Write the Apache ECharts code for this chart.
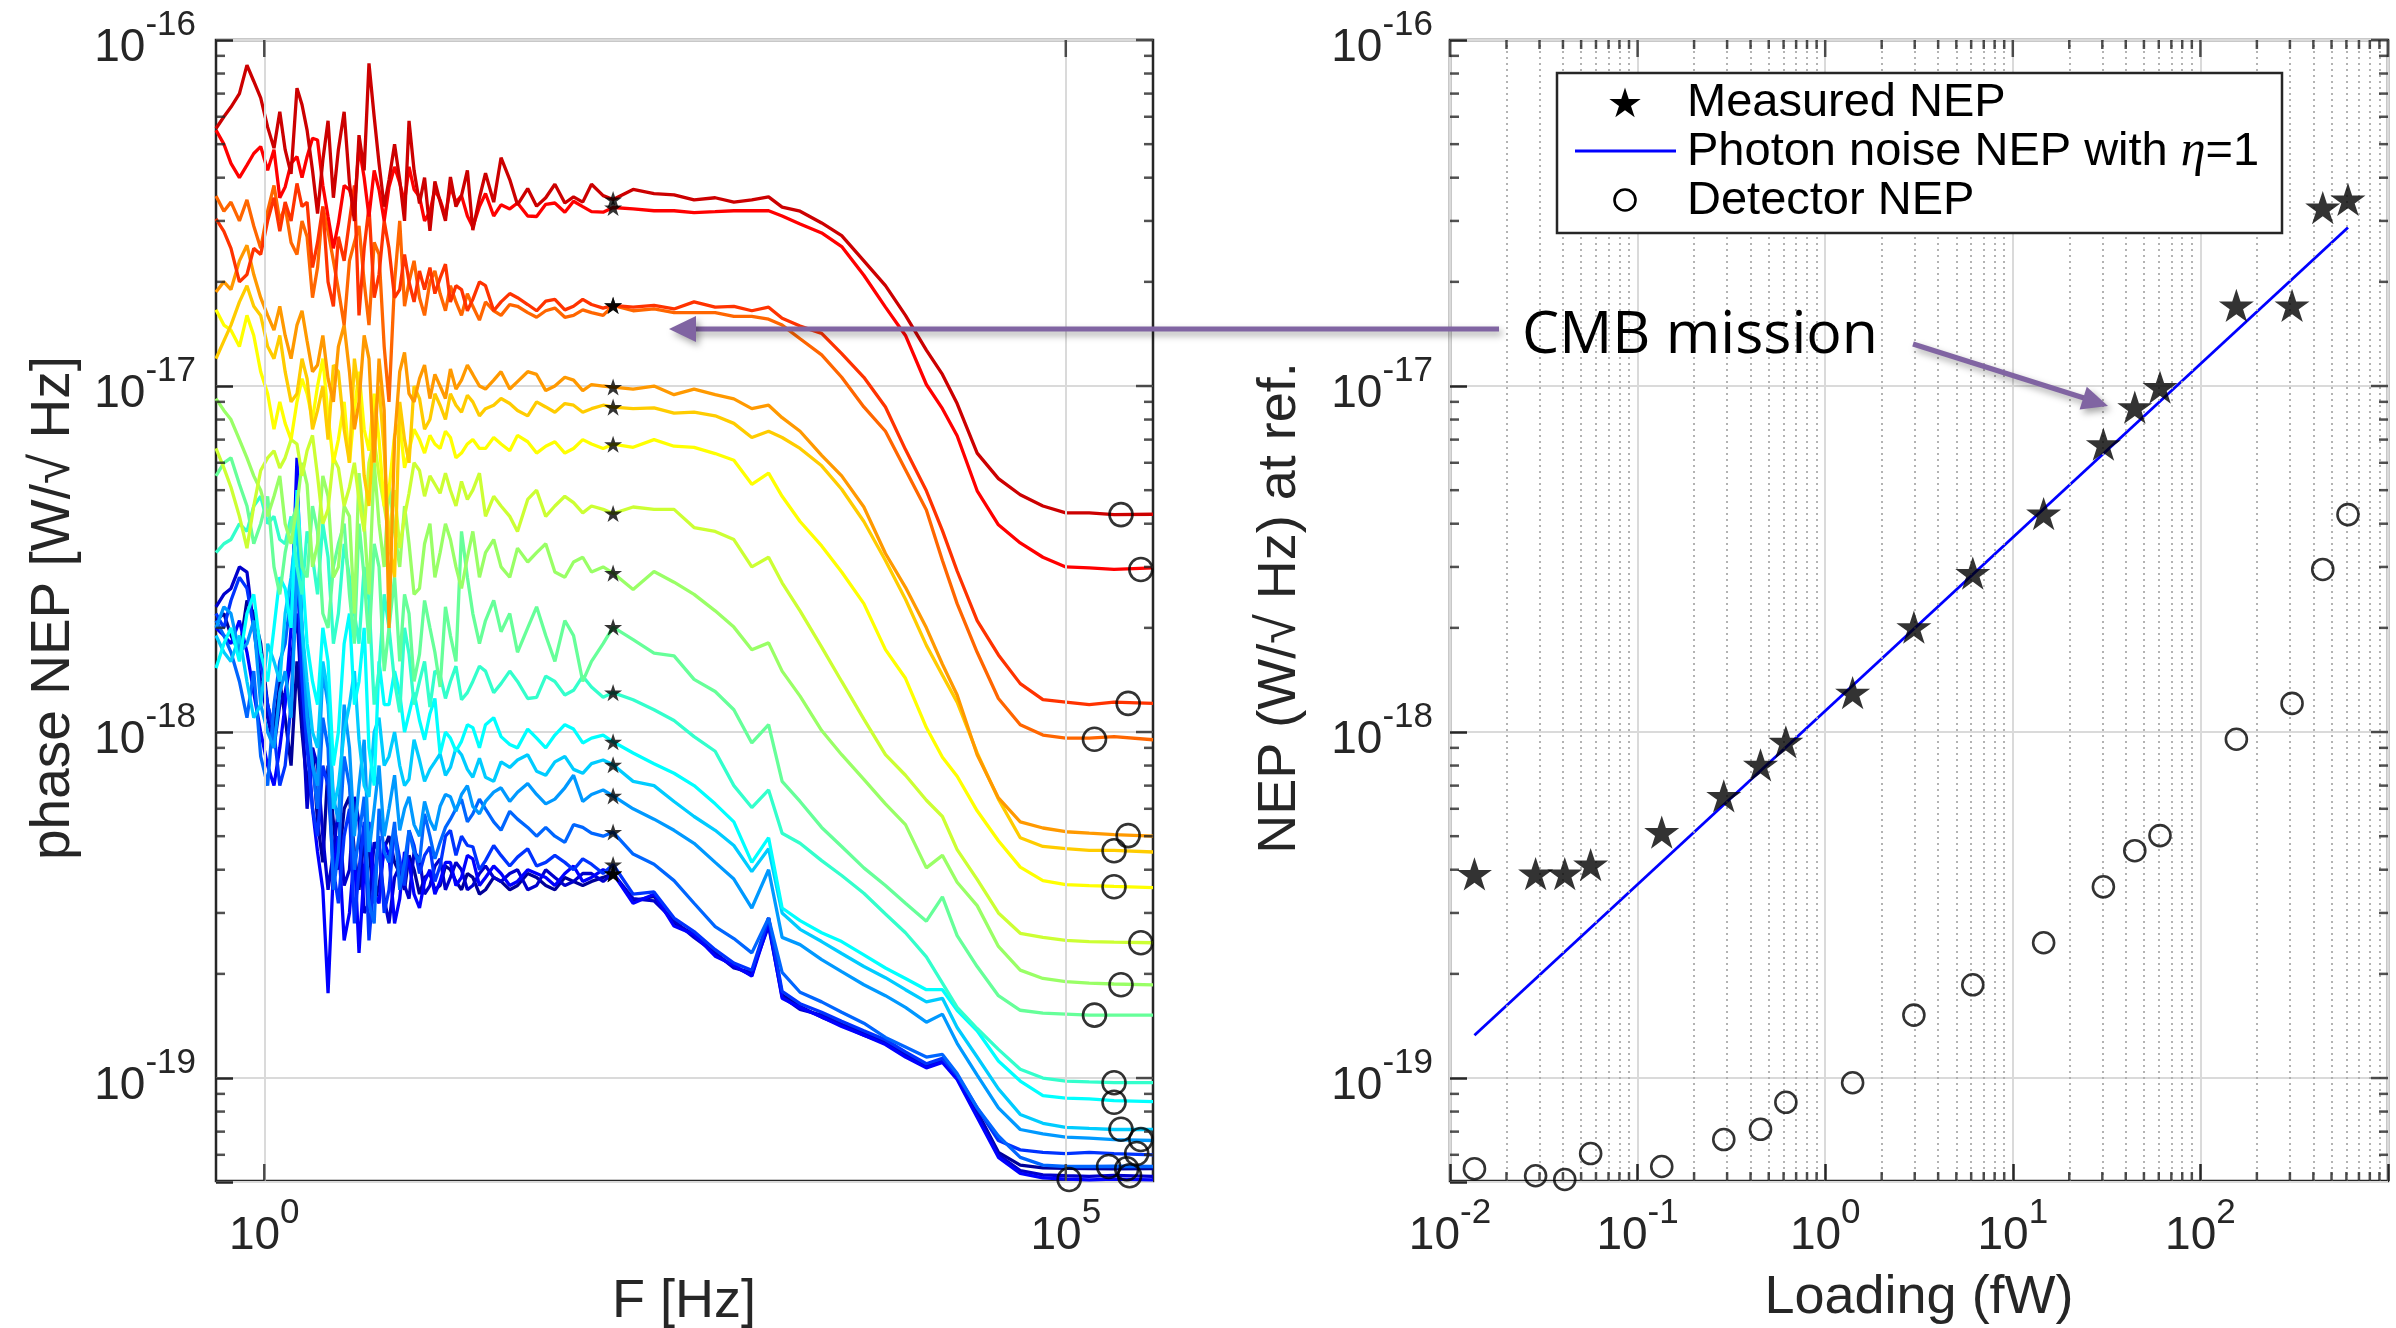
<!DOCTYPE html>
<html>
<head>
<meta charset="utf-8">
<title>Phase NEP spectra and NEP versus optical loading</title>
<script src="https://cdn.jsdelivr.net/npm/echarts@6/dist/echarts.min.js"></script>
<style>
html,body{margin:0;padding:0;background:#ffffff;}
#chart{width:2396px;height:1328px;}
</style>
</head>
<body>
<div id="chart"></div>
<script>
// ======================= DATA =======================
// Left panel: phase NEP spectra (one curve per optical loading).
// Curve values are in units of 1e-19 W/sqrt(Hz).
const nepUnit = 1e-19;
const freqHz = [0.5, 0.62, 0.78, 0.95, 1.15, 1.35, 1.6, 1.85, 2.15, 2.5, 2.9, 3.4, 3.9, 4.5, 5.2, 6, 7, 8, 9.3, 10.8,
  12.5, 14.5, 17, 20, 24, 30, 38, 50, 65, 85, 110, 150, 200, 270, 360, 480, 650, 850, 1100, 1400,
  1700, 2200, 3000, 4000, 5500, 7500, 10000, 13500, 17000, 21000, 28000, 38000, 52000, 72000, 100000, 140000, 200000, 350000];
// extra samples read in the noisy low-frequency part (between the points above)
const freqFineHz = [0.56, 0.7, 0.86, 1.05, 1.25, 1.47, 1.72, 2.0, 2.32, 2.7, 3.15, 3.65, 4.2, 4.85, 5.6, 6.5, 7.5, 8.6, 10, 11.6,
  13.5, 15.7, 18.5, 22, 27, 34, 44, 57, 75, 97, 130];

const spectrum01 = [21, 19, 24, 18, 10, 11, 16, 7, 5.5, 8, 4, 6.5, 3.5, 4.6, 3.6, 5.0, 3.9, 4.4, 3.4, 3.9, 3.6, 4.0, 3.5, 3.8, 3.5, 3.7, 3.6, 3.8, 3.5, 3.7, 3.7,
  3.9, 3.25, 3.35, 2.8, 2.6, 2.28, 2.1, 1.98, 2.9, 1.74, 1.61, 1.5, 1.42, 1.33, 1.26, 1.16, 1.08, 1.12, 1.01, 0.8, 0.61, 0.56, 0.55, 0.548, 0.547, 0.546, 0.547];
const spectrum02 = [23, 26, 29, 14, 9, 13, 22, 6, 8, 3.5, 6, 4, 5.5, 3.2, 4.5, 2.8, 4.1, 3.3, 4.3, 3.6, 4.3, 3.8, 4.0, 3.6, 4.1, 3.7, 4.0, 3.6, 3.8, 3.7, 3.9,
  3.9, 3.3, 3.25, 2.85, 2.55, 2.3, 2.08, 2.02, 2.75, 1.72, 1.58, 1.52, 1.43, 1.35, 1.27, 1.17, 1.09, 1.13, 1.0, 0.79, 0.6, 0.54, 0.525, 0.522, 0.52, 0.523, 0.52];
const spectrum03 = [20, 18, 17, 10, 7, 12, 62, 10, 4.5, 1.76, 5, 3, 2.3, 5.5, 3.2, 4.4, 3.3, 4.2, 3.1, 4.0, 3.7, 4.2, 3.8, 4.3, 3.8, 3.9, 3.7, 3.9, 3.6, 4.1, 3.8,
  3.9, 3.2, 3.4, 2.75, 2.6, 2.25, 2.12, 1.97, 2.8, 1.7, 1.6, 1.5, 1.41, 1.33, 1.25, 1.15, 1.07, 1.11, 0.99, 0.77, 0.59, 0.53, 0.515, 0.51, 0.508, 0.51, 0.508];
const spectrum04 = [22, 24, 26, 16, 10, 8, 30, 9, 5, 7, 3.2, 6, 4, 2.5, 5, 3.5, 4.3, 5.2, 3.9, 4.66, 4.1, 5.2, 5.0, 4.66, 4.25, 4.4, 4.35, 4.1, 4.4, 4.0, 4.15,
  4.14, 3.4, 3.45, 2.9, 2.65, 2.35, 2.15, 2.05, 2.9, 1.78, 1.64, 1.55, 1.46, 1.37, 1.29, 1.19, 1.1, 1.14, 1.02, 0.82, 0.66, 0.62, 0.61, 0.605, 0.61, 0.605, 0.6];
const spectrum05 = [21, 17, 11, 8.5, 12, 18, 45, 12, 6, 9, 4.5, 7, 5, 3.2, 6, 4.2, 3.5, 5.2, 4.2, 5.0, 4.8, 5.6, 6.4, 5.8, 6.0, 5.2, 5.6, 5.0, 5.0, 5.4, 5.1,
  5.14, 4.44, 4.15, 3.72, 3.2, 2.74, 2.53, 2.3, 2.9, 2.02, 1.77, 1.66, 1.55, 1.44, 1.31, 1.23, 1.15, 1.17, 1.03, 0.82, 0.68, 0.59, 0.56, 0.555, 0.555, 0.556, 0.555];
const spectrum06 = [20, 22, 18, 12, 9, 15, 30, 11, 7, 12, 5.5, 9, 7, 4.5, 8, 6, 5.2, 6.5, 5.0, 5.55, 6.1, 6.5, 6.6, 6.1, 6.3, 6.9, 6.7, 6.6, 6.4, 7.5, 6.6,
  6.54, 6.0, 5.6, 5.2, 4.77, 4.2, 3.76, 3.1, 4.0, 2.55, 2.43, 2.2, 2.03, 1.86, 1.73, 1.6, 1.45, 1.53, 1.26, 1.02, 0.82, 0.71, 0.69, 0.675, 0.67, 0.664, 0.66];
const spectrum07 = [19, 16, 14, 12, 16, 22, 40, 14, 9, 13, 7, 12, 9.5, 6.5, 11, 8.5, 8.0, 7.3, 8.3, 7.8, 8.65, 7.9, 8.6, 7.4, 7.4, 8.2, 8.3, 7.7, 8.2, 7.8, 8.1,
  8.04, 7.2, 7.0, 6.3, 5.7, 5.2, 4.7, 3.95, 4.6, 3.0, 2.69, 2.48, 2.29, 2.1, 1.95, 1.8, 1.66, 1.70, 1.4, 1.15, 0.93, 0.785, 0.74, 0.72, 0.715, 0.71, 0.71];
const spectrum08 = [15.3, 20, 22, 17, 20, 26, 50, 18, 12, 16, 10, 22, 14, 9, 16, 12, 12.9, 11.3, 10.8, 11.3, 8.65, 9.6, 9.4, 10.3, 10.5, 9.7, 9.0, 9.6, 9.8, 10.2, 9.6,
  9.37, 8.7, 8.1, 7.6, 7.0, 6.2, 5.5, 4.2, 4.95, 3.1, 2.85, 2.63, 2.48, 2.27, 2.08, 1.94, 1.8, 1.8, 1.57, 1.37, 1.12, 0.98, 0.89, 0.875, 0.87, 0.86, 0.855];
const spectrum09 = [33, 36, 38, 48, 42, 35, 30, 38, 25, 32, 22, 28, 18, 24, 15, 20, 11.4, 16.8, 14, 11.8, 14.6, 14, 12.4, 14, 15, 13.8, 14, 12.6, 14, 13.2, 13.5,
  13.0, 12.4, 11.6, 10.8, 9.7, 8.8, 7.0, 6.05, 6.8, 5.1, 4.77, 4.25, 3.85, 3.42, 2.98, 2.63, 2.24, 1.88, 1.6, 1.39, 1.21, 1.06, 1.0, 0.98, 0.975, 0.97, 0.97];
const spectrum10 = [55, 62, 45, 40, 30, 33, 45, 28, 38, 20, 35, 25, 40, 18, 30, 20, 16, 22, 16.8, 20, 13.5, 19, 38, 22, 21, 19.5, 17, 23, 16, 19, 16,
  20.1, 18.5, 16.9, 16.6, 14.2, 13.1, 11.6, 9.3, 10.5, 7.2, 6.3, 5.3, 4.67, 4.05, 3.6, 3.2, 2.84, 3.34, 2.58, 2.1, 1.73, 1.57, 1.54, 1.53, 1.52, 1.52, 1.52];
const spectrum11 = [92, 80, 62, 50, 48, 40, 45, 52, 35, 48, 30, 42, 56, 25, 40, 52, 30, 35, 26, 40, 33, 36, 26, 38, 33, 30, 34, 33, 29, 31, 29,
  28.8, 25.8, 29.1, 27.1, 25, 22.4, 20.1, 17.3, 18.1, 15, 12.7, 10.1, 8.6, 7.3, 6.2, 5.4, 4.05, 4.4, 3.68, 3.15, 2.4, 2.05, 1.94, 1.9, 1.88, 1.87, 1.86];
const spectrum12 = [66, 51, 34, 57, 65, 62, 68, 65, 55, 44, 58, 51, 47, 60, 55, 37, 34, 49, 57, 55, 49, 50, 53, 50, 42, 45, 38, 50, 45, 46, 45,
  42.8, 44.7, 44, 44, 39, 38, 36, 30, 32, 27, 22.4, 17.6, 14.0, 10.9, 8.6, 7.5, 6.35, 5.7, 4.57, 3.75, 3.0, 2.62, 2.55, 2.5, 2.48, 2.47, 2.46];
const spectrum13 = [166, 145, 160, 110, 75, 78, 90, 95, 100, 82, 70, 60, 110, 65, 70, 50, 78, 65, 70, 72, 66, 71, 64, 70, 66, 68, 72, 64, 69, 66, 68,
  67.9, 66.5, 70, 67, 66.5, 63.8, 61, 52, 56, 48, 40.6, 34.5, 29, 23.5, 17.3, 14.3, 10.3, 8.45, 7.45, 5.92, 4.85, 4.07, 3.72, 3.62, 3.6, 3.58, 3.55];
const spectrum14 = [120, 150, 195, 160, 120, 110, 95, 105, 85, 70, 110, 60, 95, 45, 100, 35, 90, 60, 92, 80, 88, 95, 84, 90, 86, 92, 85, 90, 84, 88, 86,
  86.9, 86, 86.5, 83.5, 84, 82, 78, 71, 74, 71, 66, 58.8, 50.3, 40.6, 31.3, 24.2, 17.8, 14.6, 12.2, 8.7, 6.4, 4.95, 4.67, 4.6, 4.55, 4.55, 4.5];
const spectrum15 = [187, 190, 255, 180, 145, 140, 150, 135, 115, 105, 130, 110, 90, 120, 120, 20, 110, 95, 105, 92, 100, 112, 104, 108, 98, 110, 103, 108, 100, 104, 101,
  99.3, 98, 100, 94.4, 98, 94.4, 91.8, 86, 88, 81, 74, 63, 55, 44.7, 32.8, 26.2, 20, 15.7, 12.8, 8.6, 6.45, 5.5, 5.28, 5.15, 5.1, 5.05, 5.0];
const spectrum16 = [354, 340, 345, 250, 380, 330, 240, 270, 220, 280, 190, 230, 290, 150, 240, 90, 300, 200, 180, 200, 185, 195, 160, 170, 175, 160, 170, 158, 168, 160, 163,
  171, 165, 167, 163, 163, 163, 159, 159, 156, 150, 137, 123, 106, 87, 74, 57.3, 43.8, 31.3, 23.5, 17, 12.5, 10.5, 9.8, 9.6, 9.6, 9.7, 9.5];
const spectrum17 = [304, 250, 210, 240, 350, 340, 385, 340, 260, 200, 270, 300, 160, 330, 210, 250, 190, 200, 215, 220, 205, 175, 190, 178, 195, 175, 180, 165, 178, 170, 172,
  171, 169, 171, 167, 175, 169, 170, 165, 169, 157, 149, 142, 124, 106, 87, 65.5, 49.8, 38.2, 29.2, 21, 16.7, 13.8, 12.4, 12.2, 12.0, 12.2, 12.1];
const spectrum18 = [549, 440, 435, 492, 482, 376, 460, 460, 514, 309, 295, 369, 492, 309, 369, 376, 386, 430, 352, 319, 345, 376, 355, 288, 360, 334, 338, 309, 338, 342, 319,
  328, 325, 321, 321, 317, 319, 321, 321, 321, 310, 294, 277, 253, 209, 169, 140, 101, 86, 71.8, 49.8, 39.7, 35.2, 32, 30, 29.8, 29.5, 29.8];
const spectrum19 = [555, 640, 846, 680, 487, 482, 726, 549, 315, 584, 482, 386, 531, 856, 440, 394, 394, 584, 337, 281, 341, 402, 355, 282, 412, 457, 334, 331, 383, 352, 383,
  346, 370, 360, 357, 345, 350, 340, 345, 352, 329, 320, 296, 272, 230, 195, 160, 127, 108, 89, 64, 54, 48.5, 45, 43, 43, 42.5, 42.6];

// values at freqFineHz (same units)
const fine01 = [22, 17, 22, 12, 14, 8, 10, 9, 4.2, 5.5, 6, 4.5, 5, 3.2, 4.6, 4.2, 3.5, 4.0, 3.8, 3.5, 4.1, 3.7, 3.9, 3.4, 3.8, 3.5, 3.9, 3.6, 3.8, 3.6, 3.8];
const fine02 = [25, 30, 20, 11, 12, 16, 12, 9, 5, 4.5, 3.6, 6.5, 3, 4.8, 3.3, 3.8, 3.6, 4.5, 3.4, 4.1, 3.5, 4.2, 3.5, 3.9, 3.8, 3.9, 3.5, 4.0, 3.6, 3.9, 3.7];
const fine03 = [19, 21, 13, 8, 9, 20, 18, 6, 3.5, 4, 2.5, 4.5, 4, 3.4, 4.8, 2.8, 4.5, 3.4, 3.7, 3.4, 4.2, 3.6, 4.4, 3.6, 4.1, 3.6, 4.0, 3.8, 3.9, 3.7, 4.0];
const fine04 = [20, 28, 20, 12, 7, 12, 14, 6, 8, 4, 5, 2.8, 5.5, 3.8, 3, 5.2, 3.6, 4.7, 4.4, 3.7, 5.0, 4.4, 4.7, 4.0, 4.7, 4.1, 4.6, 4.2, 4.2, 4.3, 3.9];
const fine05 = [19, 14, 15, 7, 16, 25, 20, 8, 11, 3.5, 8.5, 4, 6.5, 2.8, 4.5, 5.5, 4.2, 4.5, 5.8, 4.3, 5.3, 6.0, 5.5, 6.4, 5.5, 5.9, 5.3, 5.3, 4.8, 5.3, 5.0];
const fine06 = [23, 17, 21, 10, 13, 11, 20, 8, 15, 6.5, 12, 5, 9.5, 6, 5, 7.5, 6, 5.4, 6.3, 5.2, 6.6, 5.9, 7, 5.8, 6.7, 6.3, 7.1, 6.2, 6.9, 6.3, 6.8];
const fine07 = [17, 19, 11, 18, 14, 28, 20, 10, 16, 6, 10, 15, 7, 10, 8, 10, 7, 9.5, 7.2, 8.2, 7.5, 9, 7.8, 8.4, 7.2, 7.9, 8.6, 7.5, 8.5, 7.6, 8.3];
const fine08 = [18, 16, 25, 14, 28, 20, 30, 14, 20, 8, 18, 12, 20, 7, 12, 15, 10, 13, 9.5, 12.5, 10, 8.8, 10.5, 9, 11, 9.2, 10.2, 9, 10.5, 9.3, 9.8];
const fine09 = [35, 40, 45, 40, 36, 42, 25, 32, 40, 18, 35, 22, 30, 12, 25, 14, 20, 12, 16, 15, 12.5, 15.5, 13, 15.5, 13, 15, 12.5, 14.5, 12.8, 14.5, 12.6];
const fine10 = [60, 52, 35, 48, 25, 40, 30, 45, 22, 30, 40, 18, 28, 35, 15, 28, 25, 14, 24, 17, 23, 16, 28, 18, 24, 22, 20, 19, 21, 14, 18];
const fine11 = [85, 70, 55, 42, 55, 35, 60, 30, 55, 28, 45, 22, 40, 60, 30, 38, 45, 25, 35, 28, 40, 30, 32, 28, 36, 28, 31, 35, 28, 32, 30];
const fine12 = [58, 42, 45, 62, 58, 70, 55, 72, 40, 62, 45, 60, 38, 70, 45, 50, 42, 60, 48, 52, 56, 45, 47, 56, 48, 42, 47, 42, 48, 43, 44];
const fine13 = [150, 130, 140, 95, 90, 70, 105, 80, 120, 60, 90, 85, 75, 95, 45, 72, 58, 75, 64, 68, 74, 62, 68, 66, 71, 65, 69, 67, 64, 70, 66];
const fine14 = [135, 175, 170, 130, 140, 90, 120, 75, 100, 115, 75, 120, 55, 80, 65, 28, 70, 100, 75, 95, 80, 88, 94, 82, 88, 89, 82, 87, 89, 84, 88];
const fine15 = [200, 230, 210, 160, 170, 120, 165, 110, 140, 90, 150, 75, 140, 60, 85, 70, 125, 90, 115, 108, 92, 98, 115, 100, 104, 98, 110, 97, 106, 97, 100];
const fine16 = [320, 300, 290, 320, 300, 260, 300, 180, 330, 230, 150, 260, 200, 260, 130, 200, 170, 230, 160, 215, 165, 175, 185, 155, 165, 172, 163, 165, 158, 166, 160];
const fine17 = [280, 200, 250, 300, 280, 300, 330, 220, 330, 170, 230, 380, 250, 180, 300, 180, 240, 175, 190, 185, 225, 195, 165, 200, 165, 185, 172, 176, 166, 178, 168];
const fine18 = [500, 400, 470, 420, 350, 440, 400, 520, 380, 250, 380, 330, 400, 420, 300, 430, 340, 370, 300, 370, 310, 340, 310, 330, 310, 325, 310, 335, 318, 330, 318];
const fine19 = [600, 700, 760, 560, 620, 410, 650, 420, 450, 350, 620, 300, 420, 600, 330, 500, 300, 420, 400, 390, 300, 330, 420, 350, 340, 395, 372, 350, 338, 340, 355];

const spectra = [spectrum01, spectrum02, spectrum03, spectrum04, spectrum05, spectrum06, spectrum07, spectrum08, spectrum09, spectrum10,
  spectrum11, spectrum12, spectrum13, spectrum14, spectrum15, spectrum16, spectrum17, spectrum18, spectrum19];
const spectraFine = [fine01, fine02, fine03, fine04, fine05, fine06, fine07, fine08, fine09, fine10,
  fine11, fine12, fine13, fine14, fine15, fine16, fine17, fine18, fine19];

// Right panel: NEP versus optical loading (same order as the spectra)
const loadingFW = [0.0135, 0.0286, 0.0409, 0.0562, 0.1345, 0.288, 0.452, 0.617, 1.40, 2.97, 6.12, 14.6, 30.4, 44.7, 60.9, 155.5, 308, 449, 612];
const measuredNEP = [3.89e-19, 3.9e-19, 3.9e-19, 4.14e-19, 5.14e-19, 6.54e-19, 8.04e-19, 9.37e-19, 1.30e-18, 2.01e-18,
  2.88e-18, 4.28e-18, 6.79e-18, 8.69e-18, 9.93e-18, 1.71e-17, 1.71e-17, 3.28e-17, 3.46e-17];
const detectorNEP = [5.47e-20, 5.22e-20, 5.09e-20, 6.05e-20, 5.55e-20, 6.64e-20, 7.11e-20, 8.51e-20, 9.69e-20, 1.52e-19,
  1.86e-19, 2.46e-19, 3.57e-19, 4.54e-19, 5.02e-19, 9.53e-19, 1.21e-18, 2.95e-18, 4.25e-18];
const photonLoadingFW = [0.0135, 612];
const photonNEP = [1.33e-19, 2.87e-17];
// Where the markers sit on the spectra (left panel)
const starFreqHz = 150;
const detectorFreqHz = [240000, 250000, 105000, 277000, 185000, 294000, 221000, 200000, 200000, 151000,
  221000, 294000, 200000, 200000, 245000, 151000, 245000, 294000, 221000];

// Axis ranges and tick values
const freqRangeHz = [0.5, 3.5e5];
const loadRangeFW = [0.01, 1000];
const nepRange = [5.04e-20, 1e-16];
const freqMajorTickHz = [1, 1e5];
const loadMajorTickFW = [0.01, 0.1, 1, 10, 100, 1000];
const loadMinorTickFW = [0.02, 0.03, 0.04, 0.05, 0.06, 0.07, 0.08, 0.09, 0.2, 0.3, 0.4, 0.5, 0.6, 0.7, 0.8, 0.9,
  2, 3, 4, 5, 6, 7, 8, 9, 20, 30, 40, 50, 60, 70, 80, 90, 200, 300, 400, 500, 600, 700, 800, 900];
const nepMajorTick = [1e-19, 1e-18, 1e-17, 1e-16];
const nepMinorTick = [6e-20, 7e-20, 8e-20, 9e-20, 2e-19, 3e-19, 4e-19, 5e-19, 6e-19, 7e-19, 8e-19, 9e-19,
  2e-18, 3e-18, 4e-18, 5e-18, 6e-18, 7e-18, 8e-18, 9e-18, 2e-17, 3e-17, 4e-17, 5e-17, 6e-17, 7e-17, 8e-17, 9e-17];
const leftXExponents = [0, 5];
const rightXExponents = [-2, -1, 0, 1, 2];
const yExponents = [-19, -18, -17, -16];

// Texts
const leftYTitle = 'phase NEP [W/\u221A Hz]';
const leftXTitle = 'F [Hz]';
const rightYTitle = 'NEP (W/\u221A Hz) at ref.';
const rightXTitle = 'Loading (fW)';
const legendLabels = ['Measured NEP', 'Photon noise NEP with ', '\u03B7', '=1', 'Detector NEP'];
const annotationText = 'CMB mission';

// ======================= STYLE =======================
const curveColors = ['#000099', '#0000cc', '#0000ff', '#0033ff', '#0066ff', '#0099ff', '#00ccff', '#00ffff', '#33ffcc', '#66ff99',
  '#99ff66', '#ccff33', '#ffff00', '#ffcc00', '#ff9900', '#ff6600', '#ff3300', '#ff0000', '#cc0000'];
const FONT = "'Liberation Sans', Arial, Helvetica, sans-serif";
const INK = '#262626';
const GRID_COLOR = '#dadada';
const PURPLE = '#8064a2';
const STAR = 'path://M50,0L61.2,34.5L97.6,34.5L68.2,55.9L79.4,90.5L50,69.1L20.6,90.5L31.8,55.9L2.4,34.5L38.8,34.5Z';

const chart = echarts.init(document.getElementById('chart'), null, {renderer: 'canvas', width: 2396, height: 1328});

const labelRich = {
  b: {fontFamily: FONT, fontSize: 46, color: INK, height: 44, lineHeight: 60, verticalAlign: 'bottom'},
  s: {fontFamily: FONT, fontSize: 35, color: INK, height: 30, lineHeight: 30, verticalAlign: 'top'}
};
function powerLabel(allowed) {
  return function (value) {
    const e = Math.log10(value);
    const r = Math.round(e);
    if (Math.abs(e - r) > 1e-6 || allowed.indexOf(r) < 0) return '';
    return '{b|10}{s|' + r + '}';
  };
}
function logAxis(gridIndex, range, allowed, margin, withTicks, withSplit) {
  return {
    gridIndex: gridIndex, type: 'log', logBase: 10, min: range[0], max: range[1],
    axisLine: {show: false},
    axisTick: {show: withTicks, inside: true, length: 17, lineStyle: {color: INK, width: 2.5}},
    minorTick: {show: false},
    splitLine: {show: withSplit, lineStyle: {color: GRID_COLOR, width: 2, type: 'solid'}},
    minorSplitLine: {show: false},
    axisLabel: {show: true, formatter: powerLabel(allowed), rich: labelRich, margin: margin, color: INK, fontFamily: FONT},
    splitArea: {show: false}
  };
}

function tickMarks(g, pts, size, offset) {
  return {type: 'scatter', xAxisIndex: g, yAxisIndex: g, data: pts, symbol: 'rect', symbolSize: size, symbolOffset: offset,
    itemStyle: {color: INK}, silent: true, clip: false, z: 9, animation: false};
}
// combine the two sets of read samples of one spectrum, ordered by frequency
function spectrumPoints(base, fine) {
  const pts = freqHz.map((f, i) => [f, base[i] * nepUnit])
    .concat(freqFineHz.map((f, i) => [f, fine[i] * nepUnit]));
  pts.sort((a, b) => a[0] - b[0]);
  return pts;
}

const series = [];
// left panel major grid (vertical) lines at 10^0 and 10^5
series.push({type: 'line', xAxisIndex: 0, yAxisIndex: 0, data: [[1, 1e-16]], symbol: 'none', lineStyle: {opacity: 0}, silent: true, z: 1,
  markLine: {silent: true, animation: false, symbol: ['none', 'none'], label: {show: false},
    lineStyle: {color: GRID_COLOR, width: 2, type: 'solid'}, data: freqMajorTickHz.map(v => ({xAxis: v}))}});
// right panel minor dotted grid
series.push({type: 'line', xAxisIndex: 1, yAxisIndex: 1, data: [[1, 1e-16]], symbol: 'none', lineStyle: {opacity: 0}, silent: true, z: 1,
  markLine: {silent: true, animation: false, symbol: ['none', 'none'], label: {show: false},
    lineStyle: {color: '#a6a6a6', width: 1.7, type: [2, 4]},
    data: loadMinorTickFW.map(v => ({xAxis: v})).concat(nepMinorTick.map(v => ({yAxis: v})))}});

// spectra
spectra.forEach(function (vals, k) {
  series.push({type: 'line', name: 'Loading ' + loadingFW[k] + ' fW', xAxisIndex: 0, yAxisIndex: 0,
    data: spectrumPoints(vals, spectraFine[k]), symbol: 'none', showSymbol: false,
    lineStyle: {color: curveColors[k], width: 3.3}, itemStyle: {color: curveColors[k]}, z: 3, silent: true, animation: false});
});
// markers on spectra
series.push({type: 'scatter', name: 'Measured NEP (spectra)', xAxisIndex: 0, yAxisIndex: 0,
  data: measuredNEP.map(v => [starFreqHz, v]), symbol: STAR, symbolSize: 18, symbolKeepAspect: true,
  itemStyle: {color: '#000'}, z: 6, silent: true, animation: false});
series.push({type: 'scatter', name: 'Detector NEP (spectra)', xAxisIndex: 0, yAxisIndex: 0,
  data: detectorNEP.map((v, i) => [detectorFreqHz[i], v]), symbol: 'circle', symbolSize: 23, clip: false,
  itemStyle: {color: 'rgba(0,0,0,0)', borderColor: '#000', borderWidth: 2.6}, z: 6, silent: true, animation: false});

// right panel
series.push({type: 'line', name: 'Photon noise NEP with \u03B7=1', xAxisIndex: 1, yAxisIndex: 1,
  data: photonLoadingFW.map((x, i) => [x, photonNEP[i]]), symbol: 'none', lineStyle: {color: '#0000ff', width: 2.8}, z: 4, silent: true, animation: false});
series.push({type: 'scatter', name: 'Measured NEP', xAxisIndex: 1, yAxisIndex: 1,
  data: loadingFW.map((x, i) => [x, measuredNEP[i]]), symbol: STAR, symbolSize: 35, symbolKeepAspect: true,
  itemStyle: {color: '#000'}, z: 6, silent: true, animation: false});
series.push({type: 'scatter', name: 'Detector NEP', xAxisIndex: 1, yAxisIndex: 1,
  data: loadingFW.map((x, i) => [x, detectorNEP[i]]), symbol: 'circle', symbolSize: 21, clip: false,
  itemStyle: {color: 'rgba(0,0,0,0)', borderColor: '#000', borderWidth: 2.6}, z: 6, silent: true, animation: false});

// tick marks (Matlab-style box ticks)
series.push(tickMarks(0, freqMajorTickHz.map(v => [v, nepRange[0]]), [2.5, 17], [0, -8.5]));
series.push(tickMarks(0, freqMajorTickHz.map(v => [v, nepRange[1]]), [2.5, 17], [0, 8.5]));
series.push(tickMarks(0, nepMajorTick.map(v => [freqRangeHz[1], v]), [17, 2.5], [-8.5, 0]));
series.push(tickMarks(0, nepMinorTick.map(v => [freqRangeHz[0], v]), [9, 2.5], [4.5, 0]));
series.push(tickMarks(0, nepMinorTick.map(v => [freqRangeHz[1], v]), [9, 2.5], [-4.5, 0]));
series.push(tickMarks(1, loadMajorTickFW.map(v => [v, nepRange[1]]), [2.5, 17], [0, 8.5]));
series.push(tickMarks(1, loadMinorTickFW.map(v => [v, nepRange[0]]), [2.5, 9], [0, -4.5]));
series.push(tickMarks(1, loadMinorTickFW.map(v => [v, nepRange[1]]), [2.5, 9], [0, 4.5]));
series.push(tickMarks(1, nepMajorTick.map(v => [loadRangeFW[1], v]), [17, 2.5], [-8.5, 0]));
series.push(tickMarks(1, nepMinorTick.map(v => [loadRangeFW[0], v]), [9, 2.5], [4.5, 0]));
series.push(tickMarks(1, nepMinorTick.map(v => [loadRangeFW[1], v]), [9, 2.5], [-4.5, 0]));

// ======================= ANNOTATIONS =======================
function starPoints(cx, cy, R) {
  const pts = [];
  for (let i = 0; i < 10; i++) {
    const a = -Math.PI / 2 + i * Math.PI / 5;
    const rad = (i % 2 === 0) ? R : R * 0.382;
    pts.push([cx + rad * Math.cos(a), cy + rad * Math.sin(a)]);
  }
  return pts;
}
function txt(x, y, text, size, opts) {
  const o = opts || {};
  return {type: 'text', x: x, y: y, rotation: o.rotation || 0, z: 50, silent: true,
    style: {text: text, fontSize: size, fontFamily: o.family || FONT, fill: o.fill || INK,
      textAlign: o.align || 'center', align: o.align || 'center',
      textVerticalAlign: 'middle', verticalAlign: 'middle', rich: o.rich}};
}
const shadow = {shadowBlur: 7, shadowOffsetX: 3, shadowOffsetY: 4, shadowColor: 'rgba(0,0,0,0.35)'};
const graphics = [
  txt(54, 608, leftYTitle, 55, {rotation: Math.PI / 2}),
  txt(1280, 608, rightYTitle, 54, {rotation: Math.PI / 2}),
  txt(684, 1302, leftXTitle, 54),
  txt(1919, 1298, rightXTitle, 54),
  // legend box
  {type: 'rect', z: 40, silent: true, shape: {x: 1557, y: 73, width: 725, height: 160},
    style: {fill: '#ffffff', stroke: INK, lineWidth: 2.5}},
  {type: 'polygon', z: 45, silent: true, shape: {points: starPoints(1625, 104, 16.5)}, style: {fill: '#000'}},
  {type: 'line', z: 45, silent: true, shape: {x1: 1575, y1: 151, x2: 1676, y2: 151}, style: {stroke: '#0000ff', lineWidth: 2.8}},
  {type: 'circle', z: 45, silent: true, shape: {cx: 1625, cy: 200, r: 10.5}, style: {fill: 'none', stroke: '#000', lineWidth: 2.6}},
  txt(1687, 103, legendLabels[0], 47, {align: 'left', fill: '#000'}),
  txt(1687, 152, '{n|' + legendLabels[1] + '}{i|' + legendLabels[2] + '}{n|' + legendLabels[3] + '}', 47, {align: 'left', fill: '#000',
    rich: {n: {fontFamily: FONT, fontSize: 47, color: '#000'}, i: {fontFamily: "'Liberation Serif', serif", fontStyle: 'italic', fontSize: 50, color: '#000'}}}),
  txt(1687, 201, legendLabels[4], 47, {align: 'left', fill: '#000'}),
  // annotation
  txt(1522, 336, annotationText, 59, {align: 'left', family: "'Open Sans', 'Noto Sans', sans-serif", fill: '#000'}),
  {type: 'line', z: 48, silent: true, shape: {x1: 1499, y1: 329, x2: 692, y2: 329},
    style: Object.assign({stroke: PURPLE, lineWidth: 5}, shadow)},
  {type: 'polygon', z: 48, silent: true, shape: {points: [[669, 329], [696, 316], [696, 342]]},
    style: Object.assign({fill: PURPLE}, shadow)},
  {type: 'line', z: 48, silent: true, shape: {x1: 1913, y1: 344, x2: 2084, y2: 398},
    style: Object.assign({stroke: PURPLE, lineWidth: 5}, shadow)},
  {type: 'polygon', z: 48, silent: true, shape: {points: [[2108, 406], [2079.6, 409.5], [2086.8, 386.7]]},
    style: Object.assign({fill: PURPLE}, shadow)}
];

const option = {
  animation: false,
  backgroundColor: '#ffffff',
  textStyle: {fontFamily: FONT},
  grid: [
    {left: 216, top: 40, width: 937, height: 1141, show: true, borderColor: INK, borderWidth: 2.5, backgroundColor: 'rgba(0,0,0,0)', containLabel: false, outerBoundsMode: 'none'},
    {left: 1450, top: 40, width: 938, height: 1141, show: true, borderColor: INK, borderWidth: 2.5, backgroundColor: 'rgba(0,0,0,0)', containLabel: false, outerBoundsMode: 'none'}
  ],
  xAxis: [
    logAxis(0, freqRangeHz, leftXExponents, 17, false, false),
    logAxis(1, loadRangeFW, rightXExponents, 17, true, true)
  ],
  yAxis: [
    logAxis(0, nepRange, yExponents, 20, true, true),
    logAxis(1, nepRange, yExponents, 17, true, true)
  ],
  series: series,
  graphic: {elements: graphics}
};
chart.setOption(option);
</script>
</body>
</html>
